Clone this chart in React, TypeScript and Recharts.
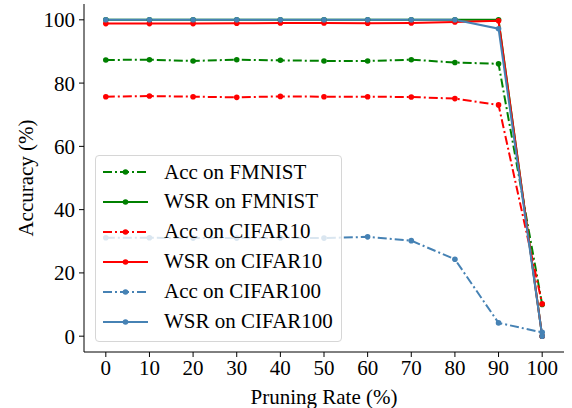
import { LineChart, Line, XAxis, YAxis } from 'recharts';

const pruningRates = [0, 10, 20, 30, 40, 50, 60, 70, 80, 90, 100];
const accFmnist = [87.3, 87.4, 87.0, 87.4, 87.2, 87.0, 87.0, 87.4, 86.5, 86.1, 10];
const wsrFmnist = [100, 100, 100, 100, 100, 100, 100, 100, 100, 100, 0];
const accCifar10 = [75.7, 75.9, 75.7, 75.5, 75.8, 75.7, 75.7, 75.6, 75.1, 73.1, 10.2];
const wsrCifar10 = [98.8, 98.8, 98.8, 98.9, 99.0, 99.0, 98.9, 99.0, 99.3, 99.7, 0];
const accCifar100 = [31.1, 31.1, 31.0, 31.0, 31.1, 31.0, 31.4, 30.2, 24.3, 4.2, 1.2];
const wsrCifar100 = [100, 100, 100, 100, 100, 100, 100, 100, 100, 97.2, 0];
const xTicks = [0, 10, 20, 30, 40, 50, 60, 70, 80, 90, 100];
const yTicks = [0, 20, 40, 60, 80, 100];

const GREEN = '#008000';
const RED = '#ff0000';
const BLUE = '#4682b4';
const DASHDOT = '9 3 2 3';
const FONT = "'Liberation Serif', 'Times New Roman', serif";

const data = pruningRates.map((rate, i) => ({
  rate,
  accFmnist: accFmnist[i],
  wsrFmnist: wsrFmnist[i],
  accCifar10: accCifar10[i],
  wsrCifar10: wsrCifar10[i],
  accCifar100: accCifar100[i],
  wsrCifar100: wsrCifar100[i],
}));

const series = [
  { key: 'accFmnist', name: 'Acc on FMNIST', color: GREEN, dash: DASHDOT },
  { key: 'wsrFmnist', name: 'WSR on FMNIST', color: GREEN, dash: undefined },
  { key: 'accCifar10', name: 'Acc on CIFAR10', color: RED, dash: DASHDOT },
  { key: 'wsrCifar10', name: 'WSR on CIFAR10', color: RED, dash: undefined },
  { key: 'accCifar100', name: 'Acc on CIFAR100', color: BLUE, dash: DASHDOT },
  { key: 'wsrCifar100', name: 'WSR on CIFAR100', color: BLUE, dash: undefined },
];

const textStyle = { fontSize: 21, fontFamily: FONT };
const tickStyle = { fill: '#000', fontSize: 21, fontFamily: FONT, style: textStyle };

export default function App() {
  return (
    <div style={{ position: 'fixed', left: 0, top: 0, width: 572, height: 408, background: '#fff', fontFamily: FONT }}>
      <LineChart width={572} height={408} data={data} margin={{ top: 4, right: 8, left: 0, bottom: 0 }} style={{ fontFamily: FONT }}>
        <XAxis
          dataKey="rate"
          type="number"
          domain={[-5, 105]}
          ticks={xTicks}
          height={56}
          stroke="#000"
          tickSize={5}
          tickMargin={3}
          tick={tickStyle}
          label={{ value: 'Pruning Rate (%)', position: 'insideBottom', offset: 4, fill: '#000', style: { ...textStyle, textAnchor: 'middle' } }}
        />
        <XAxis xAxisId="top" dataKey="rate" type="number" domain={[-5, 105]} orientation="top" height={0} tick={false} tickLine={false} stroke="#000" />
        <YAxis
          type="number"
          domain={[-5, 105]}
          ticks={yTicks}
          width={84}
          stroke="#000"
          tickSize={5}
          tickMargin={4}
          tick={tickStyle}
          label={{ value: 'Accuracy (%)', angle: -90, position: 'insideLeft', offset: 26, fill: '#000', style: { ...textStyle, textAnchor: 'middle' } }}
        />
        <YAxis yAxisId="right" type="number" domain={[-5, 105]} orientation="right" width={0} tick={false} tickLine={false} stroke="#000" />
        {series.map((s) => (
          <Line
            key={s.key}
            dataKey={s.key}
            name={s.name}
            stroke={s.color}
            strokeWidth={2}
            strokeDasharray={s.dash}
            dot={{ r: 2.8, fill: s.color, stroke: 'none' }}
            activeDot={false}
            isAnimationActive={false}
          />
        ))}
      </LineChart>

      {/* Legend */}
      <div
        style={{
          position: 'absolute',
          left: 95,
          top: 155,
          width: 245,
          height: 185,
          border: '1px solid #d6d6d6',
          borderRadius: 4,
          background: 'rgba(255,255,255,0.8)',
          fontFamily: FONT,
          fontSize: 21,
        }}
      >
        {series.map((s, i) => (
          <div
            key={s.key}
            style={{ position: 'absolute', left: 7, top: 1 + i * 29.9, height: 30, display: 'flex', alignItems: 'center', whiteSpace: 'nowrap' }}
          >
            <svg width={45} height={10} style={{ marginRight: 16 }}>
              <line x1={0} y1={5} x2={45} y2={5} stroke={s.color} strokeWidth={2} strokeDasharray={s.dash} />
              <circle cx={22.5} cy={5} r={2.8} fill={s.color} />
            </svg>
            <span>{s.name}</span>
          </div>
        ))}
      </div>
    </div>
  );
}
